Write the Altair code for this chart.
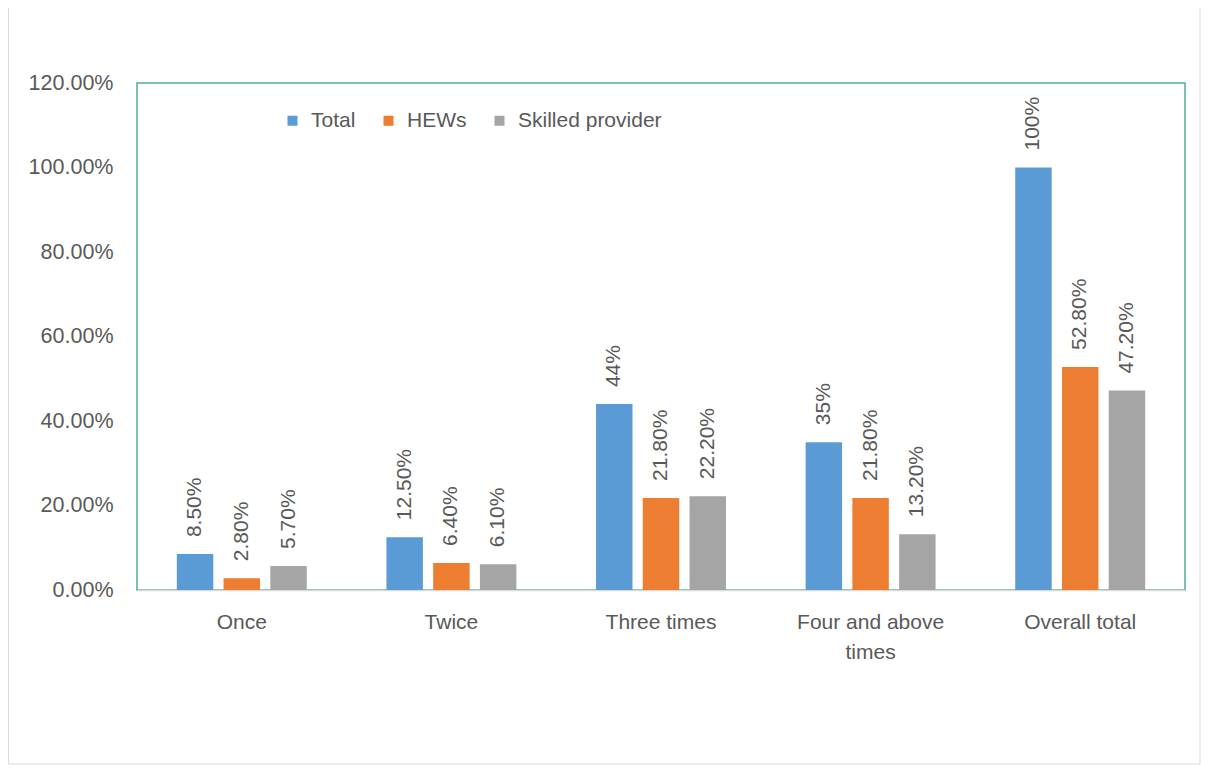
import altair as alt
import pandas as pd

categories = ["Once", "Twice", "Three times", "Four and above times", "Overall total"]
series = ["Total", "HEWs", "Skilled provider"]
total = [0.085, 0.125, 0.44, 0.35, 1.00]
hews = [0.028, 0.064, 0.218, 0.218, 0.528]
skilled = [0.057, 0.061, 0.222, 0.132, 0.472]
total_labels = ["8.50%", "12.50%", "44%", "35%", "100%"]
hews_labels = ["2.80%", "6.40%", "21.80%", "21.80%", "52.80%"]
skilled_labels = ["5.70%", "6.10%", "22.20%", "13.20%", "47.20%"]
colors = ["#5B9BD5", "#ED7D31", "#A5A5A5"]
y_ticks = [0, 0.2, 0.4, 0.6, 0.8, 1.0, 1.2]

rows = []
for s, vals, labs in zip(series, [total, hews, skilled], [total_labels, hews_labels, skilled_labels]):
    for c, v, l in zip(categories, vals, labs):
        rows.append({"category": c, "series": s, "value": v, "label": l})
df = pd.DataFrame(rows)

FONT = "Liberation Sans"
TXT = "#595959"

x_enc = alt.X(
    "category:N", sort=categories, title=None,
    scale=alt.Scale(paddingInner=0.38, paddingOuter=0.19),
    axis=alt.Axis(
        labelAngle=0, labelFontSize=21, labelColor=TXT, labelFont=FONT,
        ticks=False, labelPadding=21, domainColor="#D9D9D9", domainWidth=1.5,
        labelLineHeight=30, labelLimit=300,
        labelExpr="datum.label == 'Four and above times' ? ['Four and above', 'times'] : datum.label",
    ),
)
y_enc = alt.Y(
    "value:Q", title=None,
    scale=alt.Scale(domain=[0, 1.2]),
    axis=alt.Axis(
        values=y_ticks, format=".2%", grid=False, domain=False, ticks=False,
        labelPadding=24, labelFontSize=21.5, labelColor=TXT, labelFont=FONT,
    ),
)
xoff = alt.XOffset("series:N", sort=series, scale=alt.Scale(paddingInner=0.22, paddingOuter=0))

base = alt.Chart(df)

bars = base.mark_bar().encode(
    x=x_enc, y=y_enc, xOffset=xoff,
    color=alt.Color(
        "series:N", sort=series,
        scale=alt.Scale(domain=series, range=colors),
        legend=alt.Legend(
            title=None, orient="none", legendX=145, legendY=27, direction="horizontal",
            symbolType="square", symbolSize=100, symbolStrokeWidth=0,
            labelFontSize=21, labelColor=TXT, labelFont=FONT, labelOffset=8,
            columnPadding=22,
        ),
    ),
)

labels = base.mark_text(
    angle=270, align="left", baseline="middle", dx=17, fontSize=21, color=TXT, font=FONT
).encode(x=x_enc, y=y_enc, xOffset=xoff, text="label:N")

border = alt.Chart(alt.Data(values=[{}])).mark_rect(
    fill="transparent", stroke="#D9D9D9", strokeWidth=1
).encode(
    x=alt.value(-128.5), x2=alt.value(1063), y=alt.value(-76.5), y2=alt.value(681)
)

chart = alt.layer(border, bars, labels).properties(
    width=1048, height=507,
    padding={"left": 129, "top": 75, "right": 17, "bottom": 175},
    autosize=alt.AutoSizeParams(type="none"),
    background="white",
).configure_view(stroke="#50B08A", strokeWidth=1.5)

chart.save("out.html", embed_options={"renderer": "svg", "actions": False})
